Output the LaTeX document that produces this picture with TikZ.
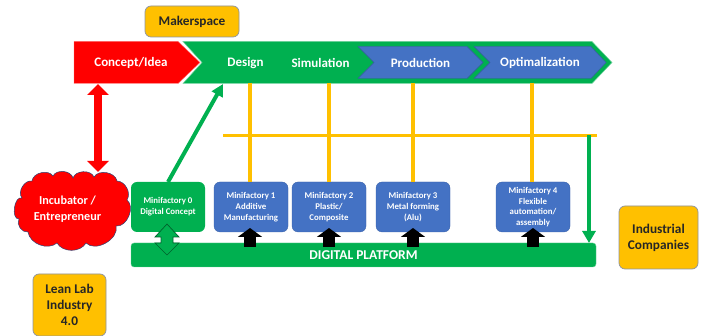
\documentclass[tikz,border=0pt]{standalone}
\usepackage{fontspec}
\setmainfont{Carlito}
\usetikzlibrary{arrows.meta}
\definecolor{cgreen}{HTML}{00B050}
\definecolor{cblue}{HTML}{4472C4}
\definecolor{cyellow}{HTML}{FFC000}
\definecolor{cred}{HTML}{FF0000}
\definecolor{cedge}{HTML}{8C93A3}
\tikzset{
  every node/.style={align=center,font=\bfseries},
  stagetext/.style={text=white,font=\bfseries\fontsize{13}{15}\selectfont},
  mini/.style={rounded corners=6pt,minimum width=74pt,minimum height=50pt,inner sep=0pt,text=white,font=\bfseries\fontsize{8.8}{10.7}\selectfont},
  minib/.style={mini,fill=cblue,draw=cblue!85!black,line width=.3pt},
  note/.style={fill=cyellow,draw=cedge,line width=.7pt,rounded corners=6pt,inner sep=0pt,text=black!85,font=\bfseries\fontsize{13.3}{15.8}\selectfont},
  grid/.style={draw=cyellow,line width=3.8pt},
  blockup/.style={black,line width=12pt,-{Triangle[length=9pt,width=24pt]}},
  gline/.style={cgreen,line width=4pt},
}
\begin{document}
\begin{tikzpicture}[x=1pt,y=-1pt]
\useasboundingbox (0,0) rectangle (705,336);
\coordinate (gridL) at (223,135.5);
\coordinate (gridR) at (597,135.5);
\coordinate (t1) at (250,83); \coordinate (t2) at (329,83);
\coordinate (t3) at (413,83); \coordinate (t4) at (532,83);
\coordinate (diagEnd) at (223,84);
\coordinate (downTop) at (589,135);
\coordinate (downEnd) at (589,243);
% chevrons
\fill[cred,draw=cred!55!white,line width=.4pt] (74,41.5)--(178,41.5)--(200,62.5)--(178,83.5)--(74,83.5)--cycle;
\fill[cgreen,draw=cgreen!55!white,line width=.5pt] (183,41.5)--(592,41.5)--(612,62.5)--(592,83.5)--(183,83.5)--(202,62.5)--cycle;
\fill[cblue,draw=cblue!80!black,line width=.4pt] (358,46.5)--(467,46.5)--(483,62.5)--(467,78.5)--(358,78.5)--(374,62.5)--cycle;
\fill[cblue,draw=cblue!80!black,line width=.4pt] (474,46.5)--(591,46.5)--(606,62.5)--(591,78.5)--(474,78.5)--(490,62.5)--cycle;
\node[stagetext] (concept) at (131,63) {Concept/Idea};
\node[stagetext] (design) at (245.5,63) {Design};
\node[stagetext] (sim) at (320.5,63) {Simulation};
\node[stagetext] (prod) at (420.5,63) {Production};
\node[stagetext] (opt) at (540,63) {Optimalization};
\node[note,minimum width=94pt,minimum height=31pt] (maker) at (192,21.5) {Makerspace};
% boxes
\node[mini,fill=cgreen] (m0) at (168,207) {Minifactory 0\\Digital Concept};
\node[minib] (m1) at (251,207) {Minifactory 1\\Additive\\Manufacturing};
\node[minib] (m2) at (329,207) {Minifactory 2\\Plastic/\\Composite};
\node[minib] (m3) at (413,207) {Minifactory 3\\Metal forming\\(Alu)};
\node[minib] (m4) at (533,207) {Minifactory 4\\Flexible\\automation/\\assembly};
% yellow grid
\draw[grid] (gridL) -- (gridR);
\draw[grid] (t1) -- (t1 |- m1.north);
\draw[grid] (t2) -- (t2 |- m2.north);
\draw[grid] (t3) -- (t3 |- m3.north);
\draw[grid] (t4) -- (t4 |- m4.north);
% platform
\node[fill=cgreen,draw=cgreen!60!white,line width=.4pt,rounded corners=3pt,minimum width=465pt,minimum height=24pt,inner sep=0pt,text=white,font=\bfseries\fontsize{13.5}{16}\selectfont] (plat) at (363.5,255) {DIGITAL PLATFORM};
% cloud
\draw[fill=cred,draw=cblue!60!black,line width=.5pt]
 (22,198) to[bend left=70] (32,181) to[bend left=70] (53,176) to[bend left=70] (73,178)
 to[bend left=70] (94,177) to[bend left=70] (117,181) to[bend left=60] (127,200)
 to[bend left=75] (116,226) to[bend left=75] (86,243) to[bend left=60] (57,243)
 to[bend left=60] (28,232) to[bend left=65] (19,219) to[bend left=100] cycle;
\node[text=white,inner sep=0pt,font=\bfseries\fontsize{12.2}{15.5}\selectfont] (cl) at (67.5,209) {Incubator /\\Entrepreneur};
% notes
\node[note,minimum width=73pt,minimum height=62pt] (lean) at (69.5,305) {Lean Lab\\Industry\\4.0};
\node[note,minimum width=79pt,minimum height=63pt] (ind) at (658.5,237.5) {Industrial\\Companies};
% arrows
\coordinate (rTop) at (98,84); \coordinate (rBot) at (98,172);
\draw[cred,line width=8pt,{Triangle[length=11pt,width=21pt]}-{Triangle[length=11pt,width=21pt]}] (rTop) -- (rBot);
\coordinate (dStart) at (168,182);
\draw[gline,-{Triangle[length=12pt,width=12pt]}] (dStart) -- (diagEnd);
\draw[gline,-{Triangle[length=12pt,width=13pt]}] (downTop) -- (downEnd);
\foreach \n/\x in {a/250,b/329,c/413,d/533}{
  \coordinate (\n1) at (\x,247); \coordinate (\n2) at (\x,228);
  \draw[blockup] (\n1) -- (\n2);
}
% double block arrow between m0 and platform
\draw[fill=cgreen,draw=cgreen!55!black,line width=.7pt]
 (167,224)--(179,237)--(173,237)--(173,243)--(179,243)--(167,255)--(155,243)--(161,243)--(161,237)--(155,237)--cycle;
\end{tikzpicture}
\end{document}
